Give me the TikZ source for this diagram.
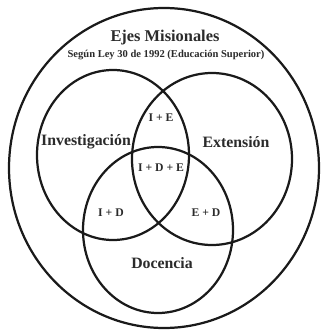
\documentclass[tikz,border=0pt]{standalone}
\usepackage{fontspec}
\setmainfont{Liberation Serif}
\usepackage{xcolor}
\usetikzlibrary{positioning}
\definecolor{inkc}{HTML}{1A1A1A}
\definecolor{textc}{HTML}{2B2B2B}
\tikzset{
  ring/.style={draw=inkc,line width=1.9pt},
  eje/.style={font=\fontsize{13.5}{15}\selectfont\bfseries,textc,inner sep=1pt},
  cruce/.style={font=\fontsize{10}{12}\selectfont\bfseries,textc,inner sep=1pt}
}
\begin{document}
\begin{tikzpicture}[x=0.03cm,y=-0.03cm]
\useasboundingbox (0,0) rectangle (333,332);
\fill[white] (0,0) rectangle (333,332);
% contorno y los tres ejes
\draw[ring] (164,168) ellipse [x radius=155,y radius=160];
\draw[ring] (113,155) ellipse [x radius=76,y radius=85];
\draw[ring] (212,159) ellipse [x radius=80,y radius=86];
\draw[ring] (158,230) ellipse [x radius=75,y radius=83];
% titulos
\node[font=\fontsize{14}{16}\selectfont\bfseries,textc] (titulo) at (165,38) {Ejes Misionales};
\node[font=\fontsize{9}{11}\selectfont\bfseries,textc] (ley) at (166,55) {Según Ley 30 de 1992 (Educación Superior)};
\node[eje] (inv) at (86,142) {Investigación};
\node[eje] (ext) at (236,142) {Extensión};
\node[eje] (doc) at (162,263) {Docencia};
\node[cruce] (ie) at (161,118) {I + E};
\node[cruce] (ide) at (161,168) {I + D + E};
\node[cruce] (id) at (111,213) {I + D};
\node[cruce] (ed) at (206,213) {E + D};
\end{tikzpicture}
\end{document}
